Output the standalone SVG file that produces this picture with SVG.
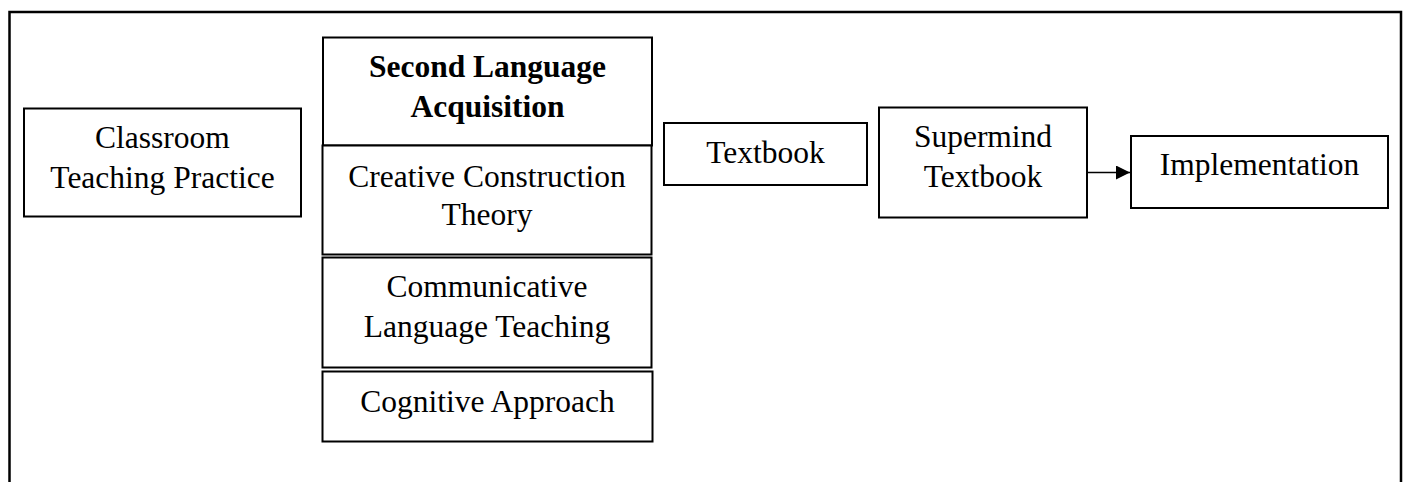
<svg xmlns="http://www.w3.org/2000/svg" width="1408" height="482" viewBox="0 0 1408 482">
<defs>
<style>
.box{fill:#fff;stroke:#000;stroke-width:2}
.t{font-family:"Liberation Serif","Times New Roman",serif;font-size:31.5px;fill:#000;text-anchor:middle}
.b{font-weight:bold}
.frame{fill:none;stroke:#000;stroke-width:2.5}
.conn{stroke:#000;stroke-width:1.5;fill:none}
</style>
<marker id="arr" viewBox="0 0 14 14" refX="14" refY="7" markerWidth="14" markerHeight="14" markerUnits="userSpaceOnUse" orient="auto">
<path d="M0,0 L14,7 L0,14 z" fill="#000"/>
</marker>
</defs>
<rect width="1408" height="482" fill="#fff"/>
<path class="frame" d="M9.5,490 V12 H1401 V490"/>
<g id="classroom">
<rect class="box" x="24" y="108.5" width="277" height="108"/>
<text class="t" x="162.5" y="148">Classroom</text>
<text class="t" x="162.5" y="188">Teaching Practice</text>
</g>
<g id="sla">
<rect class="box" x="323" y="37.5" width="329" height="108"/>
<text class="t b" x="487.5" y="77">Second Language</text>
<text class="t b" x="487.5" y="117">Acquisition</text>
</g>
<g id="creative">
<rect class="box" x="322.5" y="145.5" width="329" height="109"/>
<text class="t" x="487" y="187">Creative Construction</text>
<text class="t" x="487" y="225">Theory</text>
</g>
<g id="communicative">
<rect class="box" x="322.5" y="257.5" width="329" height="110"/>
<text class="t" x="487" y="297">Communicative</text>
<text class="t" x="487" y="337">Language Teaching</text>
</g>
<g id="cognitive">
<rect class="box" x="322.5" y="371.5" width="330" height="70"/>
<text class="t" x="487.5" y="412">Cognitive Approach</text>
</g>
<g id="textbook">
<rect class="box" x="664" y="123" width="203" height="62"/>
<text class="t" x="765.5" y="163">Textbook</text>
</g>
<g id="supermind">
<rect class="box" x="879" y="107.5" width="208" height="110"/>
<text class="t" x="983" y="147">Supermind</text>
<text class="t" x="983" y="187">Textbook</text>
</g>
<g id="implementation">
<rect class="box" x="1131" y="136" width="257" height="72"/>
<text class="t" x="1259.5" y="175">Implementation</text>
</g>
<g id="connectors">
<line class="conn" x1="1087" y1="172.5" x2="1130" y2="172.5" marker-end="url(#arr)"/>
</g>
</svg>
